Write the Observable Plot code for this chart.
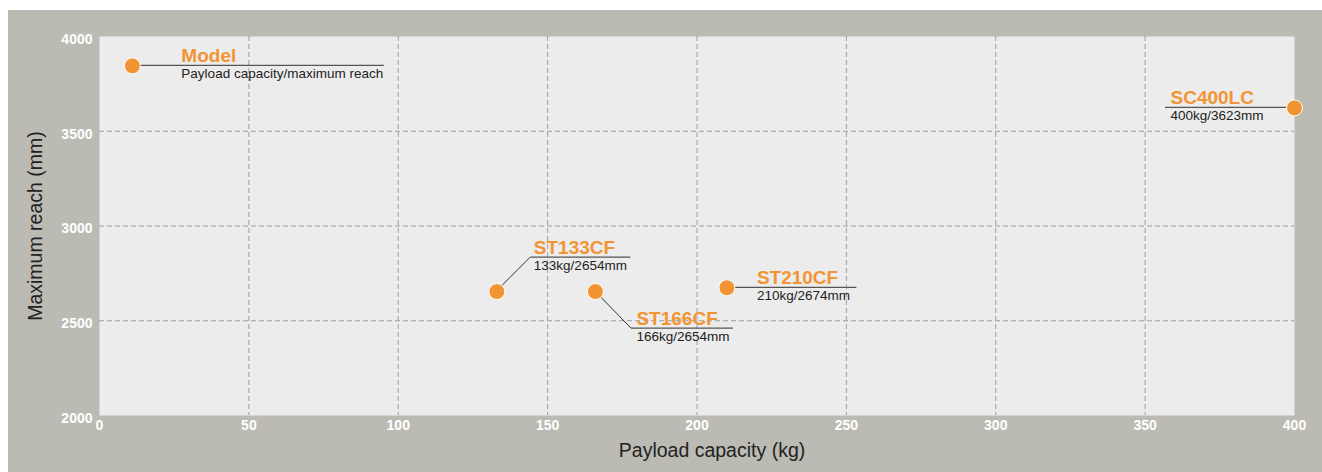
<!DOCTYPE html>
<html>
<head>
<meta charset="utf-8">
<script src="https://cdn.jsdelivr.net/npm/d3@7"></script>
<script src="https://cdn.jsdelivr.net/npm/@observablehq/plot@0.6"></script>
<style>
  html, body { margin: 0; padding: 0; background: #ffffff; }
  #wrap { padding: 10px 0 0 8px; width: 1314px; height: 462px; }
  #wrap svg { display: block; }
  g[aria-label="x-axis tick label"], g[aria-label="y-axis tick label"] { font-weight: bold; font-size: 14px; }
</style>
</head>
<body>
<div id="wrap"></div>
<script>
// ---- data ----
const models = ["Model", "ST133CF", "ST166CF", "ST210CF", "SC400LC"];
const payloadKg = [11, 133, 166, 210, 400];
const reachMm = [3845, 2654, 2654, 2674, 3623];
const specLabels = ["Payload capacity/maximum reach", "133kg/2654mm", "166kg/2654mm", "210kg/2674mm", "400kg/3623mm"];
const xTicks = [0, 50, 100, 150, 200, 250, 300, 350, 400];
const yTicks = [2000, 2500, 3000, 3500, 4000];
const xTitle = "Payload capacity (kg)";
const yTitle = "Maximum reach (mm)";

// ---- callout layout (pixel offsets from each dot) ----
const calloutElbowX = [0, 34, 36, 0, 0];
const calloutElbowY = [0, -34, 37, 0, 0];
const calloutLineFrom = [0, 34, 36, 0, -129];
const calloutLineTo = [252, 134, 138, 130, 0];
const calloutTextX = [49, 37, 41, 30, -124];

const orange = "#f39433";
const nameSize = 19, specSize = 13.5;
const idx = models.map((_, i) => i);

const calloutMarks = idx.flatMap(i => [
  Plot.text([i], {
    x: j => payloadKg[j], y: j => reachMm[j], text: j => models[j],
    dx: calloutTextX[i], dy: calloutElbowY[i] - 4 - 0.32 * nameSize,
    textAnchor: "start", fill: orange, fontWeight: "bold", fontSize: nameSize
  }),
  Plot.text([i], {
    x: j => payloadKg[j], y: j => reachMm[j], text: j => specLabels[j],
    dx: calloutTextX[i], dy: calloutElbowY[i] + 12 - 0.32 * specSize,
    textAnchor: "start", fill: "#222", fontSize: specSize
  })
]);

const chart = Plot.plot({
  width: 1314,
  height: 462,
  marginLeft: 91,
  marginRight: 28,
  marginTop: 26,
  marginBottom: 57,
  style: { background: "#bbbbb3", fontFamily: "'Liberation Sans', Arial, sans-serif", overflow: "visible" },
  x: { domain: [0, 400] },
  y: { domain: [2000, 4000] },
  marks: [
    Plot.frame({ fill: "#ececec" }),
    Plot.gridX(xTicks.slice(1, -1), { stroke: "#9e9e9e", strokeOpacity: 1, strokeDasharray: "5,3" }),
    Plot.gridY(yTicks.slice(1, -1), { stroke: "#9e9e9e", strokeOpacity: 1, strokeDasharray: "5,3" }),
    Plot.axisX(xTicks, { tickSize: 0, tickPadding: 5, fill: "white", fontSize: 14, fontWeight: "bold", tickFormat: d => String(d), label: null }),
    Plot.axisY(yTicks, { tickSize: 0, tickPadding: 7, fill: "white", fontSize: 14, fontWeight: "bold", tickFormat: d => String(d), dy: 3, label: null }),
    Plot.text([xTitle], { text: d => d, frameAnchor: "bottom", dx: 15, dy: 41, fontSize: 19.5, fill: "#222" }),
    Plot.text([yTitle], { text: d => d, frameAnchor: "left", textAnchor: "middle", rotate: -90, dx: -64, fontSize: 19.5, fill: "#222" }),
    ...calloutMarks,
    Plot.dot(idx, { x: i => payloadKg[i], y: i => reachMm[i], r: 8, fill: orange, fillOpacity: 1, stroke: "white", strokeWidth: 1 })
  ]
});

// leader lines, positioned through the plot's own scales
const sx = chart.scale("x"), sy = chart.scale("y");
const leaders = d3.create("svg:g").attr("aria-label", "leaders").attr("fill", "none");
idx.forEach(i => {
  const cx = sx.apply(payloadKg[i]), cy = sy.apply(reachMm[i]);
  const ex = cx + calloutElbowX[i], ey = cy + calloutElbowY[i];
  if (calloutElbowX[i] !== 0 || calloutElbowY[i] !== 0) {
    leaders.append("line").attr("x1", cx).attr("y1", cy).attr("x2", ex).attr("y2", ey)
      .attr("stroke", "#333").attr("stroke-width", 1);
  }
  leaders.append("line").attr("x1", cx + calloutLineFrom[i]).attr("y1", ey)
    .attr("x2", cx + calloutLineTo[i]).attr("y2", ey)
    .attr("stroke", "#555").attr("stroke-width", 1.3);
});
const dotGroup = chart.querySelector('g[aria-label="dot"]');
chart.insertBefore(leaders.node(), dotGroup);

document.getElementById("wrap").appendChild(chart);
</script>
</body>
</html>
